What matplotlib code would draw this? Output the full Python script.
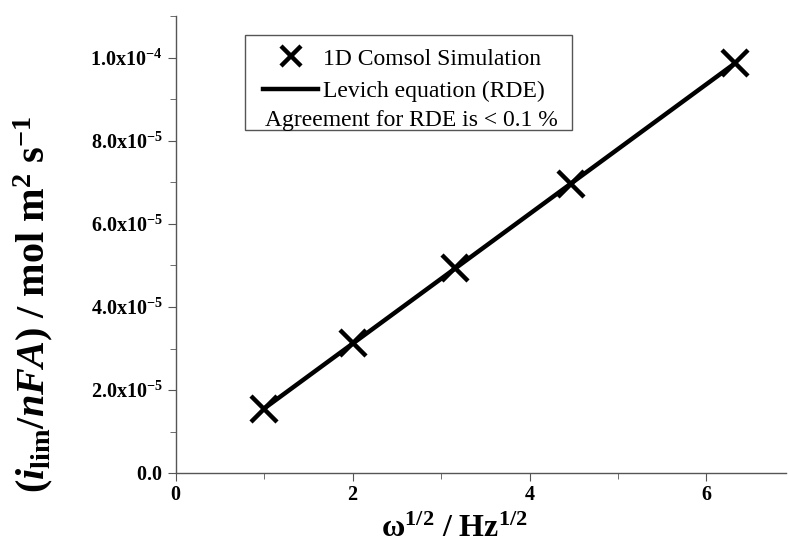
import numpy as np
import matplotlib
matplotlib.use("Agg")
import matplotlib.pyplot as plt
from matplotlib.ticker import FuncFormatter, MultipleLocator
from matplotlib.patches import Rectangle

plt.rcParams["font.family"] = ["Liberation Serif", "DejaVu Serif"]
plt.rcParams["mathtext.fontset"] = "custom"
plt.rcParams["mathtext.rm"] = "Liberation Serif"
plt.rcParams["mathtext.it"] = "Liberation Serif:italic"
plt.rcParams["mathtext.bf"] = "Liberation Serif:bold"
plt.rcParams["mathtext.bfit"] = "Liberation Serif:italic:bold"

# sqrt(rotation rate) in Hz^1/2 and limiting flux
omega_sqrt = [1.0, 2.0, 3.162, 4.472, 6.325]
flux_sim = [1.55e-5, 3.13e-5, 4.94e-5, 6.97e-5, 9.87e-5]
levich_slope = 1.56e-5  # mol m^-2 s^-1 per Hz^1/2
levich_x = [1.0, 6.325]


def sci_label(v, pos):
    if abs(v) < 1e-12:
        return r"$\mathbf{0.0}$"
    e = int(np.floor(np.log10(abs(v)) + 1e-9))
    m = v / 10 ** e
    return r"$\mathbf{%.1fx10^{%d}}$" % (m, e)


fig = plt.figure(figsize=(7.89, 5.58), dpi=100)
ax = fig.add_axes([0.223, 0.152, 0.773, 0.819])

ax.plot(levich_x, [levich_slope * x for x in levich_x], color="black", lw=3.2,
        label="Levich equation (RDE)")
ax.plot(omega_sqrt, flux_sim, ls="none", marker="x", ms=19, mew=3.2, color="black",
        label="1D Comsol Simulation")

ax.set_xlim(0, 6.9)
ax.set_ylim(0, 1.1e-4)
ax.xaxis.set_major_locator(MultipleLocator(2))
ax.xaxis.set_minor_locator(MultipleLocator(1))
ax.yaxis.set_major_locator(MultipleLocator(2e-5))
ax.yaxis.set_minor_locator(MultipleLocator(1e-5))
ax.yaxis.set_major_formatter(FuncFormatter(sci_label))
ax.xaxis.set_major_formatter(FuncFormatter(lambda v, p: r"$\mathbf{%d}$" % v))

for s in ["top", "right"]:
    ax.spines[s].set_visible(False)
for s in ["left", "bottom"]:
    ax.spines[s].set_color("#555555")
    ax.spines[s].set_linewidth(1.0)
ax.tick_params(which="both", direction="out", color="#555555", labelsize=14.5)
ax.tick_params(which="major", length=6)
ax.tick_params(which="minor", length=4)

ax.set_xlabel(r"$\mathregular{\omega}^{\mathbf{1/2}}$ / Hz$^{\mathbf{1/2}}$",
              fontsize=23, fontweight="bold")
ax.xaxis.set_label_coords(0.457, -0.09)
ax.set_ylabel(r"$\mathbf{(}\mathbfit{i}_{\mathbf{lim}}\mathbf{/}\mathbfit{nFA}\mathbf{)}$"
              r" / mol m$^{\mathbf{2}}$ s$^{\mathbf{-1}}$",
              fontsize=29, fontweight="bold")
ax.yaxis.set_label_coords(-0.198, 0.37)

# legend box
handles, labels = ax.get_legend_handles_labels()
ax.legend(handles[::-1], labels[::-1], loc="upper left", bbox_to_anchor=(0.1426, 0.930),
          frameon=False, fontsize=17, handlelength=2.35, handletextpad=0.2,
          labelspacing=0.47, borderaxespad=0, borderpad=0, markerscale=0.75)
ax.text(0.146, 0.772, "Agreement for RDE is < 0.1 %", transform=ax.transAxes,
        fontsize=17, va="center", ha="left")
ax.add_patch(Rectangle((0.113, 0.751), 0.536, 0.207, transform=ax.transAxes,
                       fill=False, ec="#555555", lw=1.0))

fig.savefig("out.png", dpi=100)
